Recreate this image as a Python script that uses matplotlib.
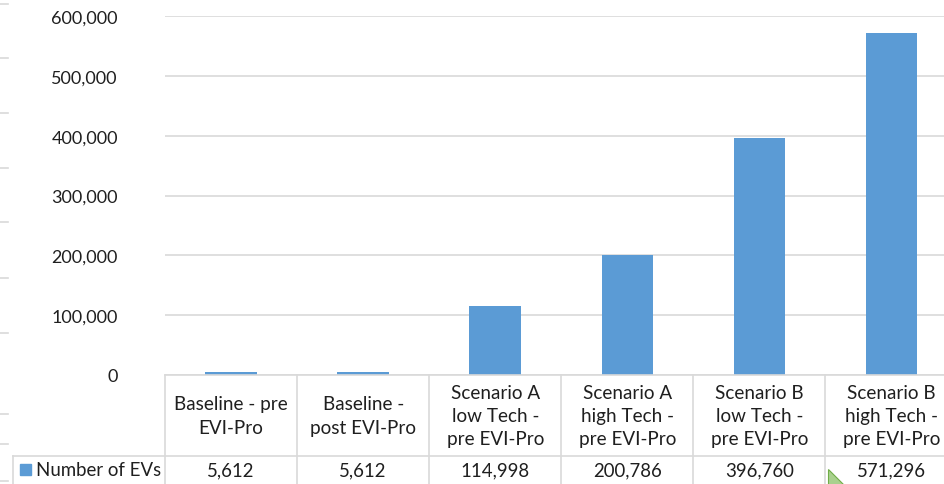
import numpy as np
import matplotlib
matplotlib.use("Agg")
from matplotlib import pyplot as plt
from matplotlib.patches import Polygon, Rectangle
from matplotlib.ticker import FuncFormatter

categories = [
    "Baseline - pre\nEVI-Pro",
    "Baseline -\npost EVI-Pro",
    "Scenario A\nlow Tech -\npre EVI-Pro",
    "Scenario A\nhigh Tech -\npre EVI-Pro",
    "Scenario B\nlow Tech -\npre EVI-Pro",
    "Scenario B\nhigh Tech -\npre EVI-Pro",
]
series_name = "Number of EVs"
num_evs = [5612, 5612, 114998, 200786, 396760, 571296]
y_ticks = [0, 100000, 200000, 300000, 400000, 500000, 600000]

W, H = 945, 485
BLUE = "#5B9BD5"
GRID = "#D9D9D9"
TEXT = "#1F1F1F"

plt.rcParams["font.family"] = ["Lato", "DejaVu Sans"]


def fx(px):
    return px / W


def fy(py):
    return 1 - py / H


fig = plt.figure(figsize=(W / 100, H / 100), dpi=100)

# plot area runs past the right edge of the sheet, like the clipped chart object
left, right, top, base = 165, 957.6, 17, 376
ax = fig.add_axes([fx(left), fy(base), fx(right - left), (base - top) / H])
x = np.arange(len(num_evs))
ax.bar(x, num_evs, width=0.39, color=BLUE, zorder=3)
ax.set_xlim(-0.5, len(num_evs) - 0.5)
ax.set_ylim(0, 600000)
ax.set_yticks(y_ticks)
ax.yaxis.set_major_formatter(FuncFormatter(lambda v, p: f"{int(v):,}"))
ax.tick_params(axis="y", length=0, pad=34, labelsize=13, labelcolor=TEXT)
ax.set_xticks([])
ax.grid(axis="y", color=GRID, linewidth=1.2, zorder=0)
for s in ax.spines.values():
    s.set_visible(False)

# data table under the plot area
col_w = (right - left) / len(num_evs)
row_split = 457
lines = [
    ((left, W), (base, base)),
    ((13, W), (row_split, row_split)),
    ((13, 13), (row_split, H)),
]
for i in range(len(num_evs)):
    cx = left + i * col_w
    lines.append(((cx, cx), (base, H)))
for xs, ys in lines:
    fig.add_artist(plt.Line2D([fx(v) for v in xs], [fy(v) for v in ys],
                              color=GRID, linewidth=1.2))

for i, (cat, val) in enumerate(zip(categories, num_evs)):
    cx = left + (i + 0.5) * col_w
    fig.text(fx(cx), fy(416.5), cat, ha="center", va="center", fontsize=13.6,
             color=TEXT, linespacing=1.45)
    fig.text(fx(cx), fy(471), f"{val:,}", ha="center", va="center",
             fontsize=13.4, color=TEXT)

fig.add_artist(Rectangle((fx(20), fy(476)), fx(11), 11 / H, color=BLUE))
fig.text(fx(36), fy(471), series_name, ha="left", va="center", fontsize=13.4,
         color=TEXT)

# sheet row lines peeking out on the left
for ry in [5, 59, 114, 169, 223, 279, 334, 415, 445, 482]:
    fig.add_artist(plt.Line2D([0, fx(8)], [fy(ry), fy(ry)], color=GRID,
                              linewidth=1.2))

# comment marker on the last cell
fig.add_artist(Polygon([(fx(828), fy(470)), (fx(828), fy(490)),
                        (fx(848), fy(490))], closed=True,
                       facecolor="#A9D18E", edgecolor="#70AD47", linewidth=0.8))

fig.savefig("out.png", dpi=100)
